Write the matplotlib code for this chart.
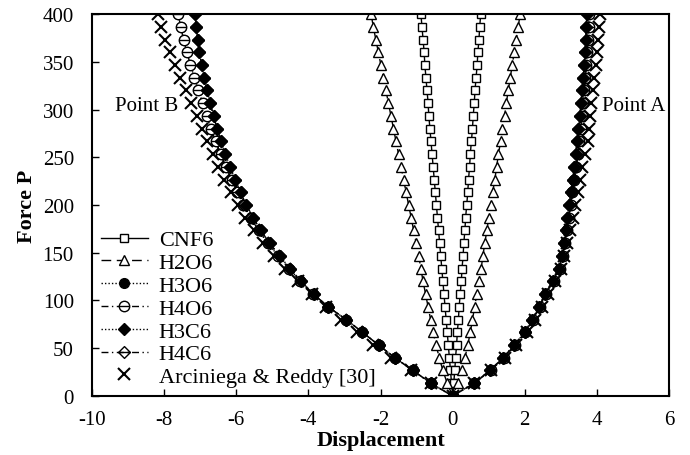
import matplotlib
matplotlib.use("Agg")
import matplotlib.pyplot as plt
import numpy as np
from matplotlib.path import Path

plt.rcParams['font.family'] = ['Liberation Serif', 'DejaVu Serif']
plt.rcParams['axes.unicode_minus'] = False

# load steps (31 increments up to P = 400)
load = [0, 13.3, 26.7, 40, 53.3, 66.7, 80, 93.3, 106.7, 120, 133.3, 146.7, 160,
        173.3, 186.7, 200, 213.3, 226.7, 240, 253.3, 266.7, 280, 293.3, 306.7,
        320, 333.3, 346.7, 360, 373.3, 386.7, 400]

# displacement at point B (negative side) and point A (positive side)
cnf6_b = [0, -0.03, -0.06, -0.09, -0.12, -0.15, -0.18, -0.21, -0.24, -0.27, -0.3,
          -0.33, -0.36, -0.39, -0.42, -0.45, -0.48, -0.51, -0.54, -0.57, -0.6,
          -0.63, -0.66, -0.68, -0.71, -0.74, -0.77, -0.79, -0.82, -0.85, -0.88]
cnf6_a = [0, 0.03, 0.06, 0.08, 0.11, 0.13, 0.16, 0.18, 0.21, 0.24, 0.26, 0.29,
          0.31, 0.34, 0.36, 0.39, 0.42, 0.44, 0.47, 0.49, 0.52, 0.55, 0.57, 0.6,
          0.62, 0.65, 0.68, 0.7, 0.73, 0.75, 0.78]

h2o6_b = [0, -0.15, -0.27, -0.37, -0.46, -0.54, -0.61, -0.68, -0.75, -0.82, -0.88,
          -0.94, -1.01, -1.08, -1.15, -1.22, -1.29, -1.36, -1.43, -1.5, -1.57,
          -1.64, -1.71, -1.78, -1.85, -1.92, -1.99, -2.06, -2.13, -2.2, -2.26]
h2o6_a = [0, 0.14, 0.25, 0.34, 0.42, 0.49, 0.55, 0.61, 0.67, 0.73, 0.79, 0.84,
          0.89, 0.95, 1.0, 1.06, 1.11, 1.17, 1.22, 1.27, 1.33, 1.38, 1.44, 1.49,
          1.54, 1.6, 1.65, 1.71, 1.76, 1.82, 1.87]

ho6_b = [0, -0.6, -1.1, -1.6, -2.05, -2.5, -2.95, -3.45, -3.86, -4.22, -4.53,
         -4.84, -5.12, -5.38, -5.6, -5.8, -5.97, -6.13, -6.29, -6.43, -6.57,
         -6.7, -6.82, -6.93, -7.05, -7.16, -7.27, -7.37, -7.46, -7.54, -7.61]
ho6_a = [0, 0.6, 1.05, 1.42, 1.72, 2.02, 2.23, 2.42, 2.58, 2.8, 2.97, 3.05,
         3.11, 3.17, 3.22, 3.27, 3.32, 3.37, 3.42, 3.47, 3.51, 3.55, 3.59,
         3.62, 3.65, 3.68, 3.71, 3.73, 3.75, 3.77, 3.79]

hc6_b = [0, -0.6, -1.1, -1.6, -2.05, -2.5, -2.95, -3.45, -3.85, -4.2, -4.5,
         -4.8, -5.07, -5.32, -5.53, -5.72, -5.88, -6.03, -6.17, -6.3, -6.42,
         -6.53, -6.63, -6.72, -6.81, -6.89, -6.96, -7.02, -7.07, -7.11, -7.14]
hc6_a = [0, 0.58, 1.03, 1.4, 1.7, 2.0, 2.2, 2.4, 2.55, 2.78, 2.95, 3.02, 3.08,
         3.13, 3.18, 3.23, 3.28, 3.33, 3.37, 3.41, 3.45, 3.49, 3.53, 3.56, 3.59,
         3.62, 3.65, 3.67, 3.69, 3.71, 3.72]

ref_b = [0, -0.6, -1.15, -1.7, -2.2, -2.65, -3.1, -3.5, -3.9, -4.3, -4.65,
         -4.95, -5.25, -5.5, -5.75, -5.95, -6.15, -6.35, -6.5, -6.65, -6.8,
         -6.95, -7.1, -7.25, -7.4, -7.55, -7.7, -7.85, -7.98, -8.1, -8.17]
ref_a = [0, 0.6, 1.05, 1.45, 1.75, 2.05, 2.28, 2.48, 2.65, 2.85, 3.0, 3.1,
         3.18, 3.26, 3.33, 3.4, 3.47, 3.54, 3.6, 3.66, 3.74, 3.78, 3.81, 3.85,
         3.89, 3.93, 3.97, 4.0, 4.03, 4.06, 4.09]

# circle / diamond with a bar through the middle
bar_h = Path([[-1, 0], [1, 0]], [Path.MOVETO, Path.LINETO])
circ_bar = Path.make_compound_path(Path.unit_circle(), bar_h)
diam = Path([[0, 1], [1, 0], [0, -1], [-1, 0], [0, 1]],
            [Path.MOVETO, Path.LINETO, Path.LINETO, Path.LINETO, Path.CLOSEPOLY])
diam_bar = Path.make_compound_path(diam, bar_h)


def branch(left, right):
    xs = list(left[::-1]) + list(right[1:])
    ys = list(load[::-1]) + list(load[1:])
    return xs, ys


fig = plt.figure(figsize=(6.9, 4.56), dpi=100)
ax = fig.add_axes([0.1333, 0.1294, 0.8363, 0.8377])

x, y = branch(cnf6_b, cnf6_a)
ax.plot(x, y, color='black', lw=1, ls='-', marker='s', ms=6, mfc='white',
        mec='black', mew=1, label='CNF6')
x, y = branch(h2o6_b, h2o6_a)
ax.plot(x, y, color='black', lw=1, ls=(0, (7, 4)), marker='^', ms=7.5,
        mfc='white', mec='black', mew=1, label='H2O6')
x, y = branch(ho6_b, ho6_a)
ax.plot(x, y, color='black', lw=1, ls=(0, (1, 1.5)), marker='o', ms=7,
        mfc='black', mec='black', label='H3O6')
ax.plot(x, y, color='black', lw=1, ls=(0, (5, 2.5, 1, 2.5)), marker=circ_bar,
        ms=7.5, mfc='white', mec='black', mew=1, label='H4O6')
x, y = branch(hc6_b, hc6_a)
ax.plot(x, y, color='black', lw=1, ls=(0, (1, 1.5)), marker='D', ms=6,
        mfc='black', mec='black', label='H3C6')
ax.plot(x, y, color='black', lw=1, ls=(0, (5, 2.5, 1, 2.5)), marker=diam_bar,
        ms=8.5, mfc='none', mec='black', mew=1, label='H4C6')
x, y = branch(ref_b, ref_a)
ax.plot(x, y, ls='none', marker='x', ms=9, mec='black', mew=1.5,
        label='Arciniega & Reddy [30]')

ax.set_xlim(-10, 6)
ax.set_ylim(0, 400)
ax.set_xticks(np.arange(-10, 7, 2))
ax.set_yticks(np.arange(0, 401, 50))
ax.tick_params(direction='in', length=5, width=1, labelsize=15)
ax.tick_params(axis='x', pad=10)
ax.tick_params(axis='y', pad=13)
for s in ax.spines.values():
    s.set_linewidth(1.5)

ax.set_xlabel('Displacement', fontsize=16, fontweight='bold', labelpad=1)
ax.set_ylabel('Force P', fontsize=16, fontweight='bold', labelpad=4)

ax.text(-9.36, 304, 'Point B', fontsize=15, ha='left', va='center')
ax.text(4.14, 304, 'Point A', fontsize=15, ha='left', va='center')

ax.legend(loc='lower left', bbox_to_anchor=(0.0, 0.0), frameon=False,
          fontsize=16, handlelength=2.1, handletextpad=0.5,
          labelspacing=0.1, borderaxespad=0.2, borderpad=0.2)

fig.savefig('out.png', dpi=100)
